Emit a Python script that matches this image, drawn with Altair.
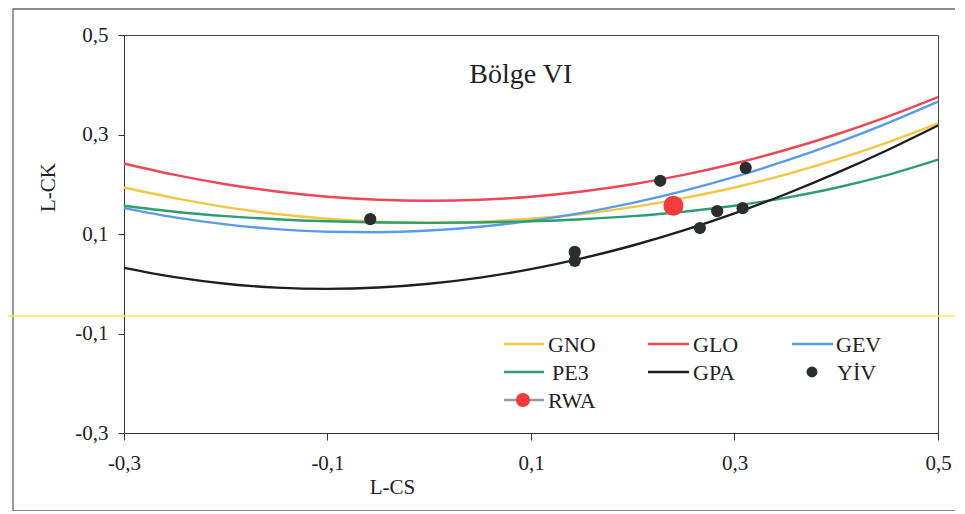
import altair as alt
import pandas as pd

# ---- data ----
TAU3 = [-0.30, -0.25, -0.20, -0.15, -0.10, -0.05, 0.00, 0.05, 0.10,
        0.15, 0.20, 0.25, 0.30, 0.35, 0.40, 0.45, 0.50]
GNO = [0.1935, 0.1721, 0.1540, 0.1403, 0.1306, 0.1248, 0.1228, 0.1248, 0.1306,
       0.1403, 0.1540, 0.1721, 0.1935, 0.2194, 0.2495, 0.2839, 0.3226]
GLO = [0.2417, 0.2188, 0.2000, 0.1854, 0.1750, 0.1688, 0.1667, 0.1688, 0.1750,
       0.1854, 0.2000, 0.2188, 0.2417, 0.2688, 0.3000, 0.3354, 0.3750]
GEV = [0.1521, 0.1334, 0.1193, 0.1097, 0.1045, 0.1036, 0.1070, 0.1147, 0.1265,
       0.1425, 0.1626, 0.1867, 0.2148, 0.2468, 0.2827, 0.3224, 0.3659]
PE3 = [0.1569, 0.1448, 0.1359, 0.1297, 0.1255, 0.1232, 0.1224, 0.1232, 0.1255,
       0.1297, 0.1359, 0.1448, 0.1569, 0.1727, 0.1929, 0.2182, 0.2493]
GPA = [0.0319, 0.0132, 0.0000, -0.0077, -0.0102, -0.0076, 0.0000, 0.0124, 0.0294,
       0.0510, 0.0769, 0.1071, 0.1415, 0.1799, 0.2222, 0.2684, 0.3182]

YIV_X = [-0.058, 0.143, 0.143, 0.227, 0.266, 0.283, 0.308, 0.311]
YIV_Y = [0.130, 0.064, 0.046, 0.207, 0.112, 0.146, 0.152, 0.233]
RWA_X = [0.240]
RWA_Y = [0.157]

SERIES = ["GNO", "GLO", "GEV", "PE3", "GPA"]
COLORS = ["#f2c744", "#ee4757", "#5a9be6", "#2f9c72", "#1e1e1e"]
TICKS = [-0.3, -0.1, 0.1, 0.3, 0.5]
TITLE = "Bölge VI"

FONT = "Tinos"
LBL = "(datum.value < 0 ? '-' : '') + replace(format(abs(datum.value), '.1f'), '.', ',')"

# ---- tables ----
curves = pd.DataFrame(
    [{"x": t, "y": v, "series": s, "order": i}
     for i, (s, vals) in enumerate(zip(SERIES, [GNO, GLO, GEV, PE3, GPA]))
     for t, v in zip(TAU3, vals)]
)
yiv = pd.DataFrame({"x": YIV_X, "y": YIV_Y})
rwa = pd.DataFrame({"x": RWA_X, "y": RWA_Y})
one = pd.DataFrame({"a": [0]})

xs = alt.Scale(domain=[-0.3, 0.5], nice=False, zero=False)
ys = alt.Scale(domain=[-0.3, 0.5], nice=False, zero=False)

x_axis = alt.Axis(values=TICKS, labelExpr=LBL, tickSize=7, labelPadding=12,
                  labelFont=FONT, labelFontSize=21, labelColor="#222",
                  labelFlush=False, labelOverlap=False,
                  domainColor="#333", tickColor="#333", grid=False,
                  title="L-CS", titleFont=FONT, titleFontSize=21,
                  titleFontWeight="normal", titleColor="#222",
                  titleX=268, titleY=54, titleBaseline="middle", titleAlign="center")
y_axis = alt.Axis(values=TICKS, labelExpr=LBL, tickSize=6, labelPadding=10,
                  labelFont=FONT, labelFontSize=21, labelColor="#222",
                  labelFlush=False, labelOverlap=False,
                  domainColor="#333", tickColor="#333", grid=False,
                  title="L-CK", titleFont=FONT, titleFontSize=21,
                  titleFontWeight="normal", titleColor="#222",
                  titleX=-76, titleY=152, titleBaseline="middle", titleAlign="center")

lines = alt.Chart(curves).mark_line(strokeWidth=2.4, interpolate="monotone").encode(
    x=alt.X("x:Q", scale=xs, axis=x_axis),
    y=alt.Y("y:Q", scale=ys, axis=y_axis),
    color=alt.Color("series:N", scale=alt.Scale(domain=SERIES, range=COLORS), legend=None),
    order="order:Q",
)

pts = alt.Chart(yiv).mark_circle(size=150, color="#2b2d2f", opacity=1).encode(
    x=alt.X("x:Q", scale=xs), y=alt.Y("y:Q", scale=ys))
rpt = alt.Chart(rwa).mark_circle(size=400, color="#f23b3b", opacity=1).encode(
    x=alt.X("x:Q", scale=xs), y=alt.Y("y:Q", scale=ys))

heading = alt.Chart(pd.DataFrame({"x": [0.09], "y": [0.42], "t": [TITLE]})).mark_text(
    font=FONT, fontSize=28, color="#222", baseline="middle", align="center"
).encode(x=alt.X("x:Q", scale=xs), y=alt.Y("y:Q", scale=ys), text="t:N")

# ---- custom legend (layout in pixels) ----
leg_lines = pd.DataFrame({
    "name": ["GNO", "GLO", "GEV", "PE3", "GPA", "RWA"],
    "x1": [380, 524, 668, 380, 524, 380],
    "x2": [420, 565, 709, 420, 565, 420],
    "yy": [309, 309, 309, 337, 337, 365],
    "col": ["#f2c744", "#ee4757", "#5a9be6", "#2f9c72", "#1e1e1e", "#9a9a9a"],
})
leg_text = pd.DataFrame({
    "name": ["GNO", "GLO", "GEV", "PE3", "GPA", "YİV", "RWA"],
    "tx": [424, 569, 712, 428, 569, 713, 424],
    "ty": [310, 310, 310, 338, 338, 338, 366],
})
leg_dots = pd.DataFrame({
    "name": ["YİV", "RWA"],
    "dx": [688, 399], "dy": [337, 365],
    "col": ["#2b2d2f", "#f23b3b"], "sz": [120, 200],
})

ll = alt.Chart(leg_lines).mark_rule(strokeWidth=2.6).encode(
    x=alt.X("x1:Q", scale=None), x2="x2:Q", y=alt.Y("yy:Q", scale=None),
    color=alt.Color("col:N", scale=None))
lt = alt.Chart(leg_text).mark_text(font=FONT, fontSize=22, color="#222",
                                   align="left", baseline="middle").encode(
    x=alt.X("tx:Q", scale=None), y=alt.Y("ty:Q", scale=None), text="name:N")
ld = alt.Chart(leg_dots).mark_circle(opacity=1).encode(
    x=alt.X("dx:Q", scale=None), y=alt.Y("dy:Q", scale=None),
    color=alt.Color("col:N", scale=None), size=alt.Size("sz:Q", scale=None))

frame = alt.Chart(one).mark_rect(fillOpacity=0, stroke="#666", strokeWidth=1.3).encode(
    x=alt.value(-111), x2=alt.value(845), y=alt.value(-26), y2=alt.value(476))
yellow = alt.Chart(one).mark_rule(color="#f2ec4a", strokeWidth=1.4).encode(
    x=alt.value(-124), x2=alt.value(841), y=alt.value(281))

chart = alt.layer(frame, lines, pts, rpt, heading, ll, ld, lt, yellow).properties(
    width=814, height=398,
    padding={"left": 116, "top": 27, "right": 17, "bottom": 78},
    autosize=alt.AutoSizeParams(type="none"),
    background="white",
).configure(font=FONT).configure_view(stroke="#444", strokeWidth=1)

chart.save("out.html", embed_options={"renderer": "svg", "actions": False})
